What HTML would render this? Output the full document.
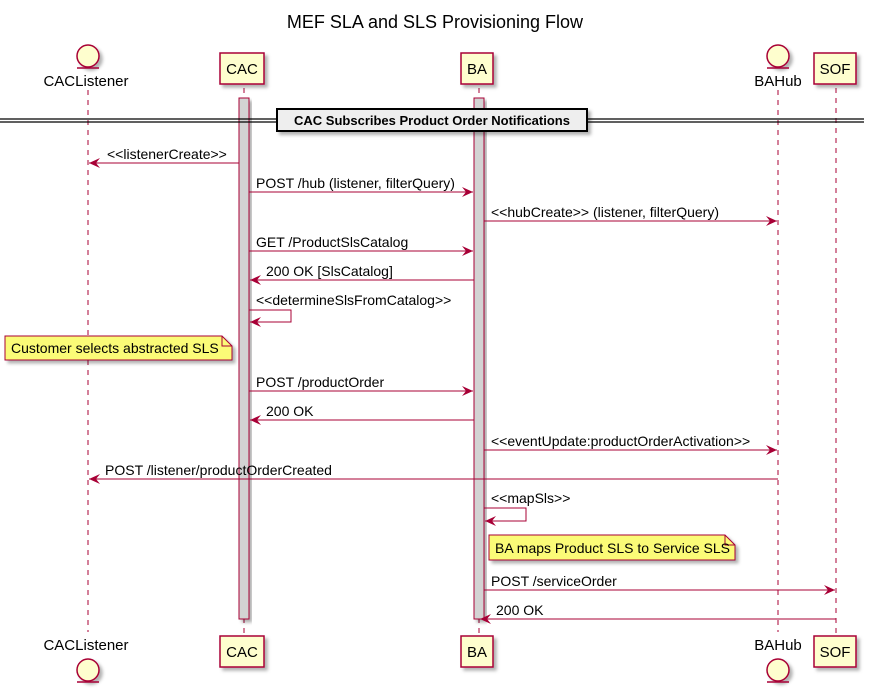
<!DOCTYPE html>
<html><head><meta charset="utf-8"><style>
html,body{margin:0;padding:0;background:#fff}
svg{display:block}
text{font-family:"Liberation Sans",sans-serif;font-size:14px;fill:#000}
</style></head><body>
<svg width="870" height="694" viewBox="0 0 870 694" xmlns="http://www.w3.org/2000/svg">
<defs>
<filter id="sh" x="-20%" y="-20%" width="150%" height="150%"><feDropShadow dx="3" dy="3" stdDeviation="1.5" flood-color="#000" flood-opacity="0.3"/></filter>
</defs>
<text x="435" y="28" text-anchor="middle" style="font-size:18px">MEF SLA and SLS Provisioning Flow</text>

<g stroke="#A80036" stroke-width="1" stroke-dasharray="5,5">
<line x1="88" y1="90" x2="88" y2="632"/>
<line x1="244" y1="88" x2="244" y2="636"/>
<line x1="479" y1="88" x2="479" y2="636"/>
<line x1="778" y1="90" x2="778" y2="632"/>
<line x1="836" y1="88" x2="836" y2="636"/>
</g>

<rect x="239" y="98" width="10" height="521" fill="#D3D3D3" stroke="#A80036" filter="url(#sh)"/>
<rect x="474" y="98" width="10" height="521" fill="#D3D3D3" stroke="#A80036" filter="url(#sh)"/>

<g fill="#FEFECE" stroke="#A80036" stroke-width="1.5">
<circle cx="88" cy="56" r="11" filter="url(#sh)"/>
<line x1="77" y1="68" x2="99" y2="68"/>
<rect x="220" y="53" width="44" height="31" filter="url(#sh)"/>
<rect x="461" y="53" width="32" height="31" filter="url(#sh)"/>
<circle cx="778" cy="56" r="11" filter="url(#sh)"/>
<line x1="767" y1="68" x2="789" y2="68"/>
<rect x="814" y="53" width="42" height="31" filter="url(#sh)"/>
<circle cx="88" cy="670" r="11" filter="url(#sh)"/>
<line x1="77" y1="682" x2="99" y2="682"/>
<rect x="220" y="636" width="44" height="31" filter="url(#sh)"/>
<rect x="461" y="636" width="32" height="31" filter="url(#sh)"/>
<circle cx="778" cy="670" r="11" filter="url(#sh)"/>
<line x1="767" y1="682" x2="789" y2="682"/>
<rect x="814" y="636" width="42" height="31" filter="url(#sh)"/>
</g>
<g>
<text x="86" y="86" text-anchor="middle" style="font-size:15px">CACListener</text>
<text x="242" y="74" text-anchor="middle" style="font-size:15px">CAC</text>
<text x="477" y="74" text-anchor="middle" style="font-size:15px">BA</text>
<text x="778" y="86" text-anchor="middle" style="font-size:15px">BAHub</text>
<text x="835" y="74" text-anchor="middle" style="font-size:15px">SOF</text>
<text x="86" y="650" text-anchor="middle" style="font-size:15px">CACListener</text>
<text x="242" y="657" text-anchor="middle" style="font-size:15px">CAC</text>
<text x="477" y="657" text-anchor="middle" style="font-size:15px">BA</text>
<text x="778" y="650" text-anchor="middle" style="font-size:15px">BAHub</text>
<text x="835" y="657" text-anchor="middle" style="font-size:15px">SOF</text>
</g>

<line x1="0" y1="119" x2="864" y2="119" stroke="#000" stroke-width="1.2"/>
<line x1="0" y1="122" x2="864" y2="122" stroke="#000" stroke-width="1.2"/>
<rect x="277" y="109" width="310" height="22" fill="#EEEEEE" stroke="#000" stroke-width="2" filter="url(#sh)"/>
<text x="432" y="125" text-anchor="middle" style="font-weight:bold;font-size:13px">CAC Subscribes Product Order Notifications</text>

<g stroke="#A80036" stroke-width="1" fill="none">
<line x1="239" y1="163" x2="89" y2="163"/>
<line x1="249" y1="192" x2="473" y2="192"/>
<line x1="484" y1="221" x2="777" y2="221"/>
<line x1="249" y1="251" x2="473" y2="251"/>
<line x1="474" y1="280" x2="250" y2="280"/>
<polyline points="249,310 291,310 291,322 250,322"/>
<line x1="249" y1="391" x2="473" y2="391"/>
<line x1="474" y1="420" x2="250" y2="420"/>
<line x1="484" y1="450" x2="777" y2="450"/>
<line x1="778" y1="479" x2="89" y2="479"/>
<polyline points="484,508 526,508 526,521 485,521"/>
<line x1="484" y1="590" x2="835" y2="590"/>
<line x1="836" y1="619" x2="480" y2="619"/>
</g>
<g fill="#A80036">
<path d="M89,163 l11,-5 l-4,5 l4,5z"/>
<path d="M473,192 l-11,-5 l4,5 l-4,5z"/>
<path d="M777,221 l-11,-5 l4,5 l-4,5z"/>
<path d="M473,251 l-11,-5 l4,5 l-4,5z"/>
<path d="M250,280 l11,-5 l-4,5 l4,5z"/>
<path d="M250,322 l11,-5 l-4,5 l4,5z"/>
<path d="M473,391 l-11,-5 l4,5 l-4,5z"/>
<path d="M250,420 l11,-5 l-4,5 l4,5z"/>
<path d="M777,450 l-11,-5 l4,5 l-4,5z"/>
<path d="M89,479 l11,-5 l-4,5 l4,5z"/>
<path d="M485,521 l11,-5 l-4,5 l4,5z"/>
<path d="M835,590 l-11,-5 l4,5 l-4,5z"/>
<path d="M480,619 l11,-5 l-4,5 l4,5z"/>
</g>
<text x="107" y="159">&lt;&lt;listenerCreate&gt;&gt;</text>
<text x="256" y="188">POST /hub (listener, filterQuery)</text>
<text x="491" y="217">&lt;&lt;hubCreate&gt;&gt; (listener, filterQuery)</text>
<text x="256" y="247">GET /ProductSlsCatalog</text>
<text x="266" y="276">200 OK [SlsCatalog]</text>
<text x="256" y="305">&lt;&lt;determineSlsFromCatalog&gt;&gt;</text>
<text x="256" y="387">POST /productOrder</text>
<text x="266" y="416">200 OK</text>
<text x="491" y="446">&lt;&lt;eventUpdate:productOrderActivation&gt;&gt;</text>
<text x="105" y="475">POST /listener/productOrderCreated</text>
<text x="491" y="503">&lt;&lt;mapSls&gt;&gt;</text>
<text x="491" y="586">POST /serviceOrder</text>
<text x="496" y="615">200 OK</text>

<g fill="#FBFB77" stroke="#A80036" stroke-width="1">
<path d="M5,336 L222,336 L232,346 L232,360 L5,360 Z" filter="url(#sh)"/>
<path d="M222,336 L222,346 L232,346" fill="none"/>
<path d="M489,535 L725,535 L735,545 L735,560 L489,560 Z" filter="url(#sh)"/>
<path d="M725,535 L725,545 L735,545" fill="none"/>
</g>
<text x="11" y="353">Customer selects abstracted SLS</text>
<text x="495" y="553">BA maps Product SLS to Service SLS</text>
</svg>
</body></html>
